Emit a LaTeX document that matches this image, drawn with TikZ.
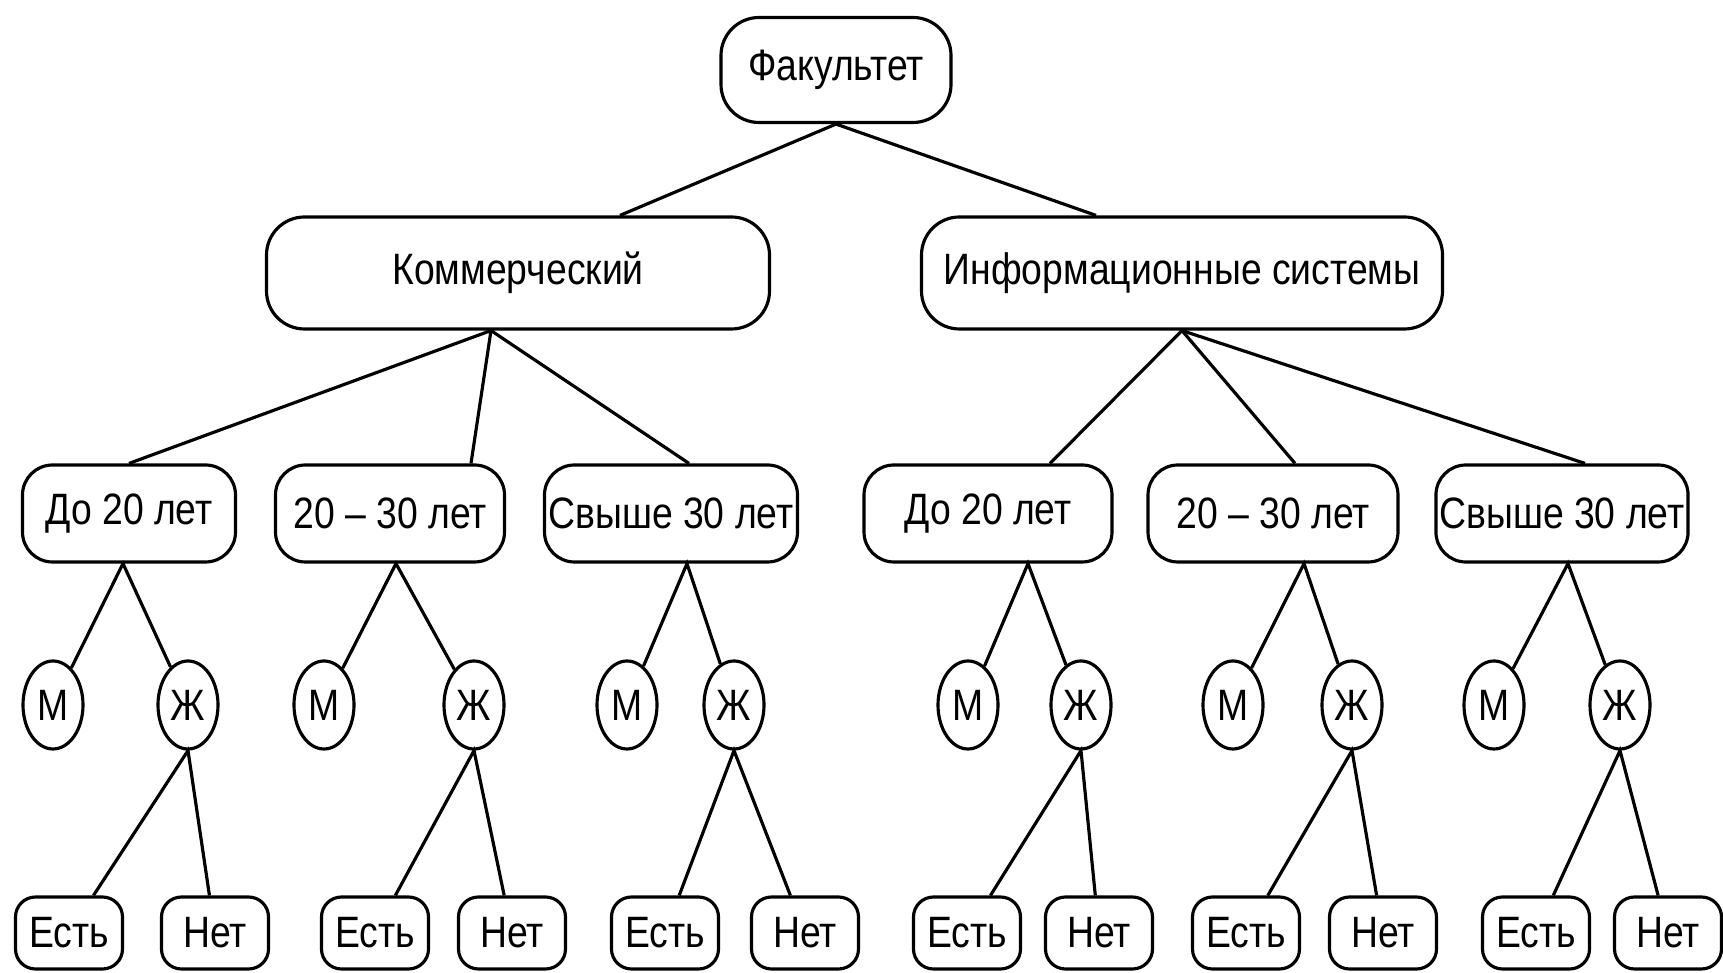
\documentclass[tikz,border=0pt]{standalone}
\usepackage{fontspec}
\setmainfont{Liberation Sans}[FakeStretch=0.85]
\usetikzlibrary{shapes.geometric}

\begin{document}
\begin{tikzpicture}[
        font=\fontsize{12.5}{14}\selectfont,
        line width=0.9pt,
        bigbox/.style={draw, rounded corners=0.38cm, minimum height=1.12cm},
        agebox/.style={draw, rounded corners=0.3cm, minimum height=0.97cm, inner sep=1pt},
        leafbox/.style={draw, rounded corners=0.2cm, minimum width=1.07cm, minimum height=0.72cm, inner sep=1pt},
        sexnode/.style={draw, ellipse, minimum width=0.6cm, minimum height=0.88cm, inner sep=0pt}
    ]
        \useasboundingbox (0, 0) rectangle (17.23, 9.73);
        % top two levels
        \node[bigbox, minimum width=2.3cm, minimum height=1.05cm] (fac) at (8.36, 9.03) {Факультет};
        \node[bigbox, minimum width=5.03cm] (kom) at (5.18, 7.00) {Коммерческий};
        \node[bigbox, minimum width=5.21cm] (inf) at (11.82, 7.00) {Информационные системы};
        \draw ([xshift=1.02cm]kom.north) -- (fac.south) -- ([xshift=-0.86cm]inf.north);
        % age
        \node[agebox, minimum width=2.13cm] (a1) at (1.29, 4.595) {До 20 лет};
        \node[agebox, minimum width=2.29cm] (a2) at (3.90, 4.595) {20 -- 30 лет};
        \node[agebox, minimum width=2.53cm] (a3) at (6.71, 4.595) {Свыше 30 лет};
        \node[agebox, minimum width=2.48cm] (a4) at (9.88, 4.595) {До 20 лет};
        \node[agebox, minimum width=2.50cm] (a5) at (12.73, 4.595) {20 -- 30 лет};
        \node[agebox, minimum width=2.51cm] (a6) at (15.62, 4.595) {Свыше 30 лет};
        \draw (a1.north) -- ([xshift=-0.27cm]kom.south) -- ([xshift=0.81cm]a2.north);
        \draw ([xshift=-0.27cm]kom.south) -- ([xshift=0.18cm]a3.north);
        \draw ([xshift=0.62cm]a4.north) -- (inf.south) -- ([xshift=0.22cm]a5.north);
        \draw (inf.south) -- ([xshift=0.23cm]a6.north);
        % sex
        \node[sexnode] (m1) at (0.53, 2.68) {М};
        \node[sexnode] (z1) at (1.88, 2.68) {Ж};
        \node[sexnode] (m2) at (3.24, 2.68) {М};
        \node[sexnode] (z2) at (4.74, 2.68) {Ж};
        \node[sexnode] (m3) at (6.27, 2.68) {М};
        \node[sexnode] (z3) at (7.34, 2.68) {Ж};
        \node[sexnode] (m4) at (9.68, 2.68) {М};
        \node[sexnode] (z4) at (10.81, 2.68) {Ж};
        \node[sexnode] (m5) at (12.33, 2.68) {М};
        \node[sexnode] (z5) at (13.52, 2.68) {Ж};
        \node[sexnode] (m6) at (14.94, 2.68) {М};
        \node[sexnode] (z6) at (16.20, 2.68) {Ж};
        \draw (m1) -- ([xshift=-0.06cm]a1.south) -- (z1);
        \draw (m2) -- ([xshift=0.06cm]a2.south) -- (z2);
        \draw (m3) -- ([xshift=0.16cm]a3.south) -- (z3);
        \draw (m4) -- ([xshift=0.40cm]a4.south) -- (z4);
        \draw (m5) -- ([xshift=0.31cm]a5.south) -- (z5);
        \draw (m6) -- ([xshift=0.06cm]a6.south) -- (z6);
        % leaves
        \node[leafbox] (e1) at (0.69, 0.40) {Есть};
        \node[leafbox] (n1) at (2.15, 0.40) {Нет};
        \node[leafbox] (e2) at (3.75, 0.40) {Есть};
        \node[leafbox] (n2) at (5.12, 0.40) {Нет};
        \node[leafbox] (e3) at (6.65, 0.40) {Есть};
        \node[leafbox] (n3) at (8.05, 0.40) {Нет};
        \node[leafbox] (e4) at (9.67, 0.40) {Есть};
        \node[leafbox] (n4) at (10.99, 0.40) {Нет};
        \node[leafbox] (e5) at (12.46, 0.40) {Есть};
        \node[leafbox] (n5) at (13.83, 0.40) {Нет};
        \node[leafbox] (e6) at (15.36, 0.40) {Есть};
        \node[leafbox] (n6) at (16.68, 0.40) {Нет};
        \draw (e1) -- (z1.south) -- (n1);
        \draw (e2) -- (z2.south) -- (n2);
        \draw (e3) -- (z3.south) -- (n3);
        \draw (e4) -- (z4.south) -- (n4);
        \draw (e5) -- (z5.south) -- (n5);
        \draw (e6) -- (z6.south) -- (n6);
    \end{tikzpicture}
\end{document}
